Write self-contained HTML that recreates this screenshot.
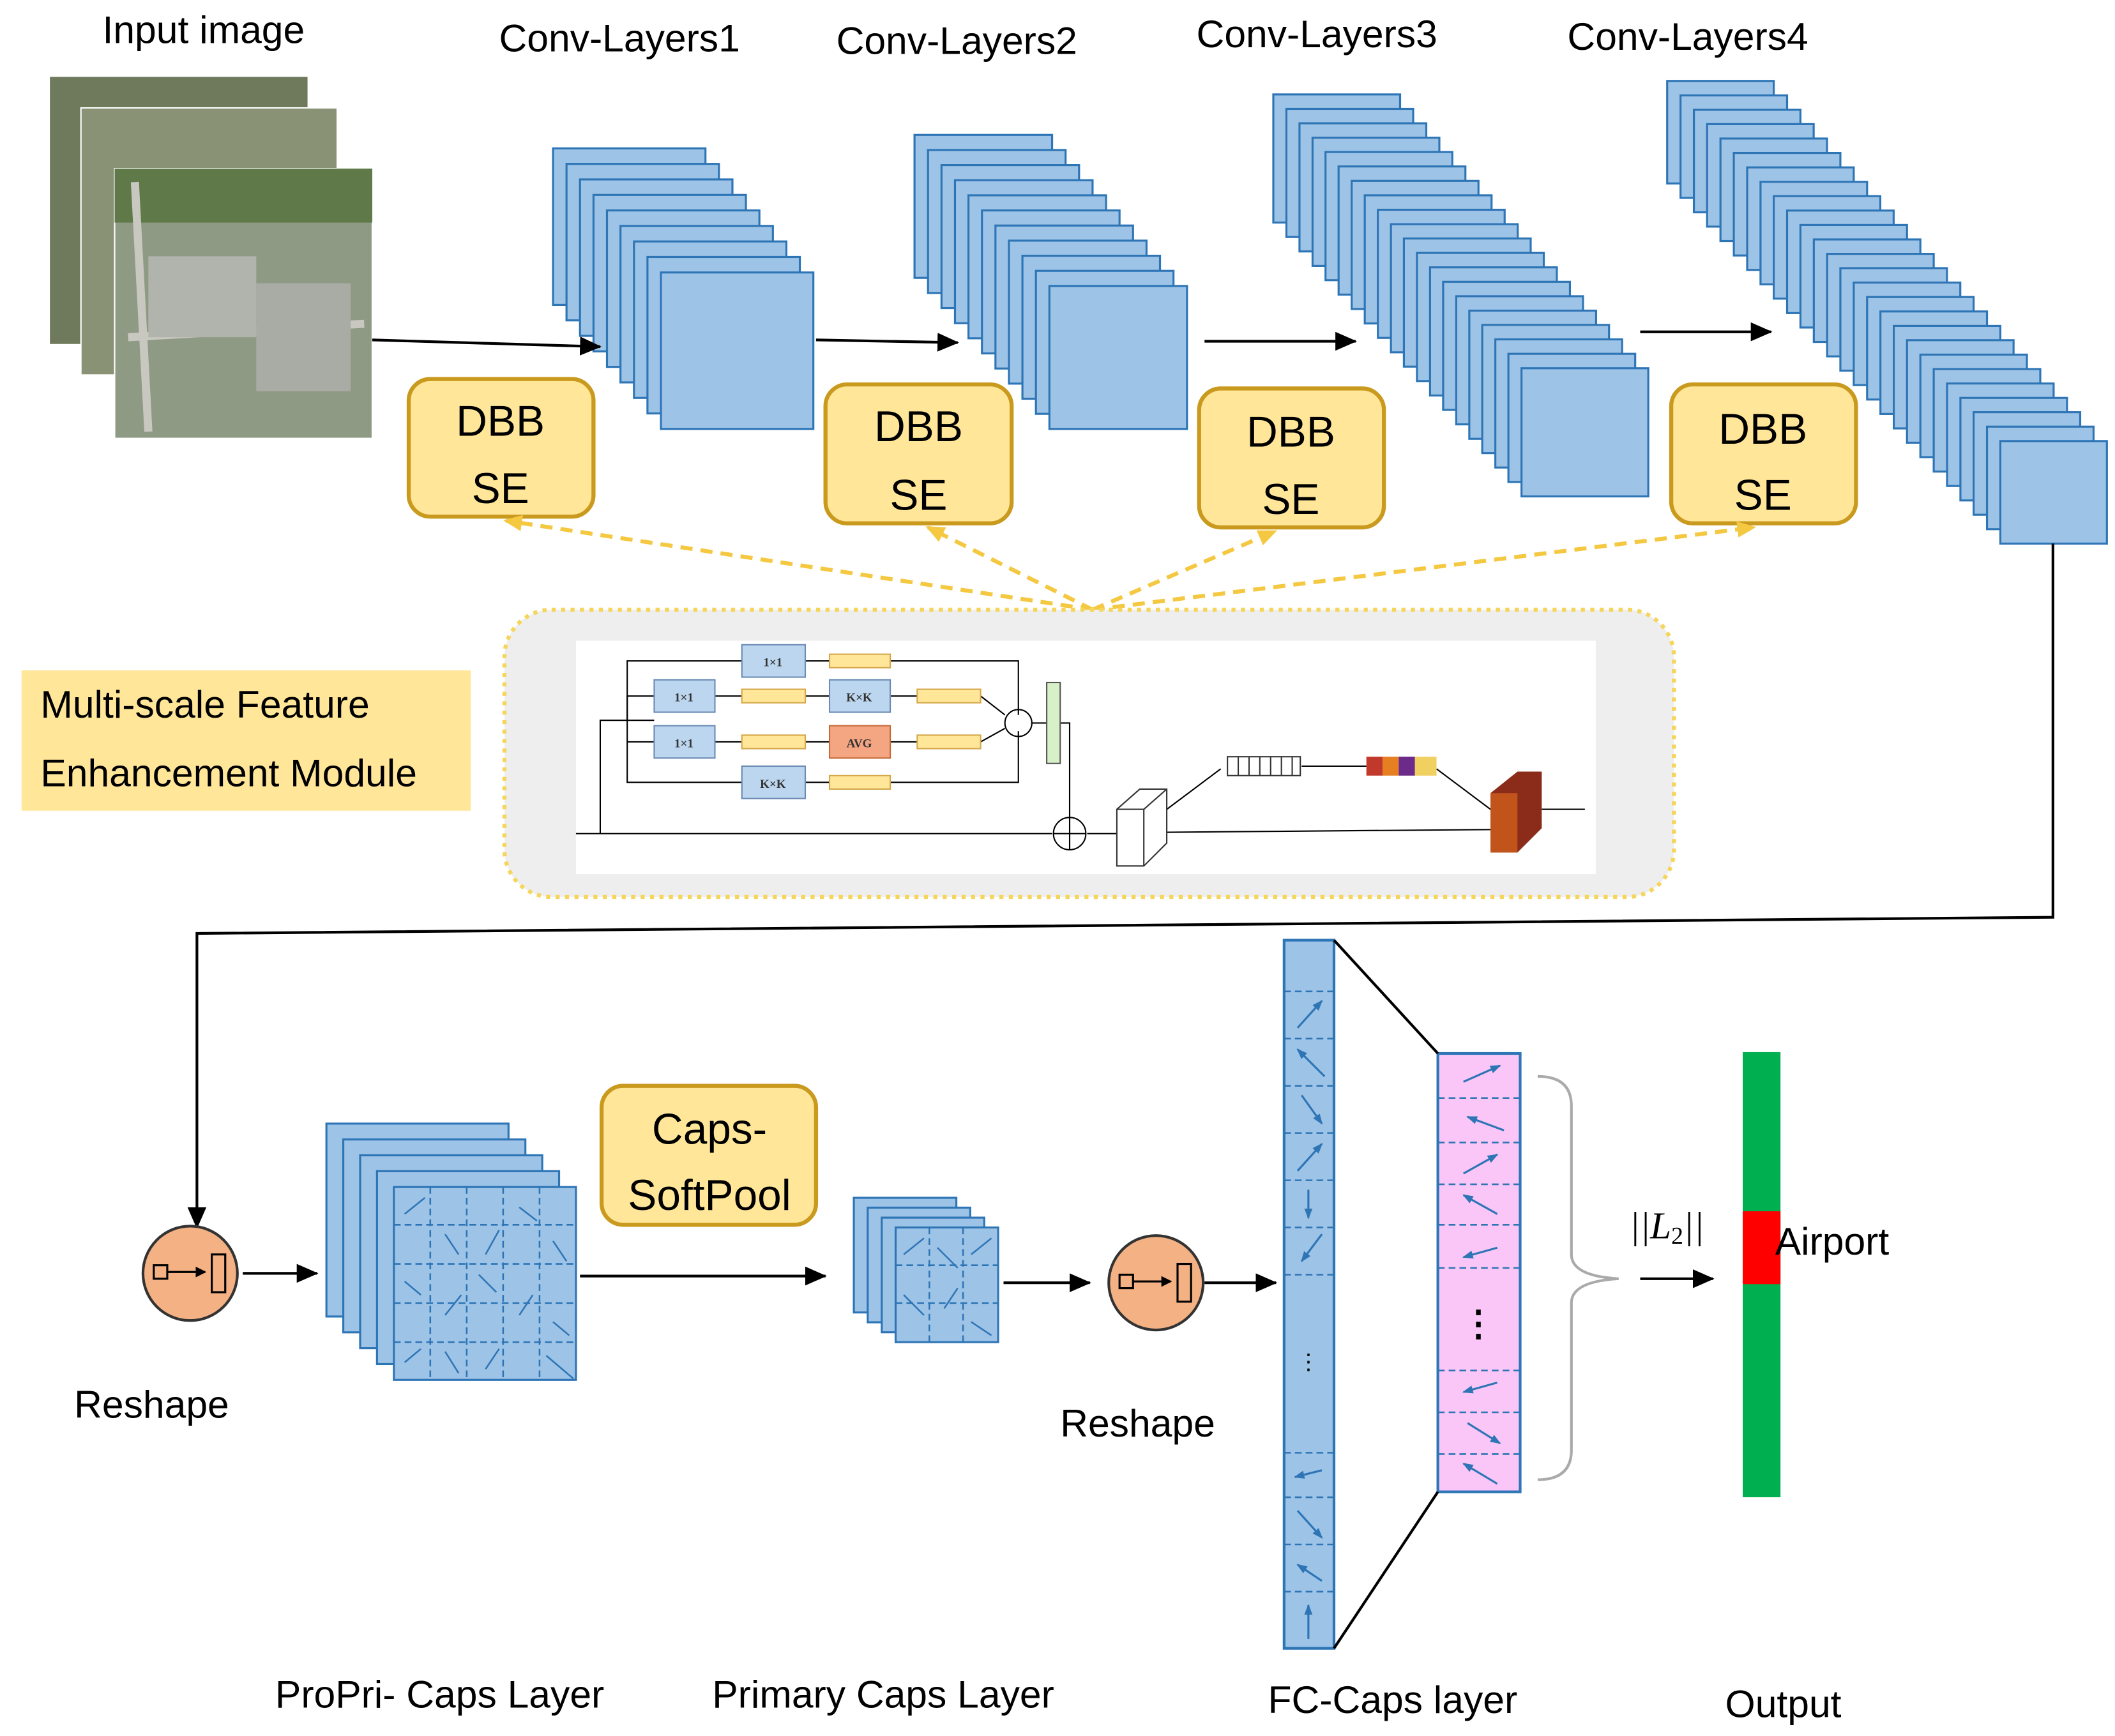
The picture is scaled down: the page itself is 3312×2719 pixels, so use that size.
<!DOCTYPE html>
<html><head><meta charset="utf-8"><style>html,body{margin:0;padding:0;background:#fff}svg{display:block}</style></head>
<body>
<svg xmlns="http://www.w3.org/2000/svg" width="3312" height="2719" viewBox="0 0 1568 1287" preserveAspectRatio="none" font-family="Liberation Sans, sans-serif">
<defs>
<marker id="ah" markerWidth="8" markerHeight="8" refX="7" refY="4" orient="auto" markerUnits="userSpaceOnUse"><path d="M0,0 L8,4 L0,8z" fill="#000"/></marker>
<marker id="ahb" markerWidth="16" markerHeight="14" refX="15" refY="7" orient="auto" markerUnits="userSpaceOnUse"><path d="M0,0 L16,7 L0,14z" fill="#000"/></marker>
<marker id="ahy" markerWidth="14" markerHeight="12" refX="12" refY="6" orient="auto" markerUnits="userSpaceOnUse"><path d="M0,0 L14,6 L0,12z" fill="#F5C842"/></marker>
<marker id="ahs" markerWidth="8" markerHeight="6" refX="7" refY="3" orient="auto" markerUnits="userSpaceOnUse"><path d="M0,0 L8,3 L0,6z" fill="#2E75B6"/></marker>
</defs>
<rect width="1568" height="1287" fill="#fff"/>
<g font-size="28.7" fill="#000">
<text x="76" y="32">Input image</text>
<text x="370" y="38">Conv-Layers1</text>
<text x="620" y="40">Conv-Layers2</text>
<text x="887" y="35">Conv-Layers3</text>
<text x="1162" y="37">Conv-Layers4</text>
</g>
<!-- input images -->
<rect x="37" y="57" width="191" height="198" fill="#6f7a5c"/>
<rect x="60" y="80" width="190" height="198" fill="#8a9276" stroke="#fff" stroke-width="1"/>
<rect x="85" y="125" width="191" height="200" fill="#8f9a84" stroke="#fff" stroke-width="1"/>
<rect x="85" y="125" width="191" height="40" fill="#5f7a48"/>
<path d="M100,135 L110,320 M95,250 L270,240" stroke="#c8c8c0" stroke-width="6" fill="none"/>
<rect x="110" y="190" width="80" height="60" fill="#b0b4ac"/>
<rect x="190" y="210" width="70" height="80" fill="#a8aca4"/>
<!-- conv stacks -->
<g fill="#9DC3E6" stroke="#2E75B6" stroke-width="1.5">
<g>
<rect x="410" y="110" width="113" height="116"/><rect x="420" y="121.5" width="113" height="116"/><rect x="430" y="133" width="113" height="116"/><rect x="440" y="144.5" width="113" height="116"/><rect x="450" y="156" width="113" height="116"/><rect x="460" y="167.5" width="113" height="116"/><rect x="470" y="179" width="113" height="116"/><rect x="480" y="190.5" width="113" height="116"/><rect x="490" y="202" width="113" height="116"/>
</g>
<g>
<rect x="678" y="100" width="102" height="106"/><rect x="688" y="111.2" width="102" height="106"/><rect x="698" y="122.4" width="102" height="106"/><rect x="708" y="133.6" width="102" height="106"/><rect x="718" y="144.8" width="102" height="106"/><rect x="728" y="156" width="102" height="106"/><rect x="738" y="167.2" width="102" height="106"/><rect x="748" y="178.4" width="102" height="106"/><rect x="758" y="189.6" width="102" height="106"/><rect x="768" y="200.8" width="102" height="106"/><rect x="778" y="212" width="102" height="106"/>
</g>
<g>
<rect x="944" y="70" width="94" height="95"/><rect x="953.7" y="80.7" width="94" height="95"/><rect x="963.4" y="91.4" width="94" height="95"/><rect x="973.1" y="102.1" width="94" height="95"/><rect x="982.7" y="112.7" width="94" height="95"/><rect x="992.4" y="123.4" width="94" height="95"/><rect x="1002.1" y="134.1" width="94" height="95"/><rect x="1011.8" y="144.8" width="94" height="95"/><rect x="1021.5" y="155.5" width="94" height="95"/><rect x="1031.2" y="166.2" width="94" height="95"/><rect x="1040.8" y="176.8" width="94" height="95"/><rect x="1050.5" y="187.5" width="94" height="95"/><rect x="1060.2" y="198.2" width="94" height="95"/><rect x="1069.9" y="208.9" width="94" height="95"/><rect x="1079.6" y="219.6" width="94" height="95"/><rect x="1089.3" y="230.3" width="94" height="95"/><rect x="1098.9" y="240.9" width="94" height="95"/><rect x="1108.6" y="251.6" width="94" height="95"/><rect x="1118.3" y="262.3" width="94" height="95"/><rect x="1128" y="273" width="94" height="95"/>
</g>
<g>
<rect x="1236" y="60" width="79" height="76"/><rect x="1245.9" y="70.7" width="79" height="76"/><rect x="1255.8" y="81.4" width="79" height="76"/><rect x="1265.6" y="92" width="79" height="76"/><rect x="1275.5" y="102.7" width="79" height="76"/><rect x="1285.4" y="113.4" width="79" height="76"/><rect x="1295.3" y="124.1" width="79" height="76"/><rect x="1305.2" y="134.8" width="79" height="76"/><rect x="1315" y="145.4" width="79" height="76"/><rect x="1324.9" y="156.1" width="79" height="76"/><rect x="1334.8" y="166.8" width="79" height="76"/><rect x="1344.7" y="177.5" width="79" height="76"/><rect x="1354.6" y="188.2" width="79" height="76"/><rect x="1364.4" y="198.8" width="79" height="76"/><rect x="1374.3" y="209.5" width="79" height="76"/><rect x="1384.2" y="220.2" width="79" height="76"/><rect x="1394.1" y="230.9" width="79" height="76"/><rect x="1404" y="241.6" width="79" height="76"/><rect x="1413.8" y="252.2" width="79" height="76"/><rect x="1423.7" y="262.9" width="79" height="76"/><rect x="1433.6" y="273.6" width="79" height="76"/><rect x="1443.5" y="284.3" width="79" height="76"/><rect x="1453.4" y="295" width="79" height="76"/><rect x="1463.2" y="305.6" width="79" height="76"/><rect x="1473.1" y="316.3" width="79" height="76"/><rect x="1483" y="327" width="79" height="76"/>
</g>
<g>
<rect x="242" y="833" width="135" height="143"/><rect x="254.5" y="844.75" width="135" height="143"/><rect x="267" y="856.5" width="135" height="143"/><rect x="279.5" y="868.25" width="135" height="143"/><rect x="292" y="880" width="135" height="143"/>
</g>
<g>
<rect x="633" y="888" width="76" height="85"/><rect x="643.3" y="895.3" width="76" height="85"/><rect x="653.7" y="902.7" width="76" height="85"/><rect x="664" y="910" width="76" height="85"/>
</g>
</g>
<!-- grid on propri -->
<g stroke="#2E75B6" stroke-dasharray="5,3" stroke-width="1.2">
<line x1="292" y1="908" x2="427" y2="908"/><line x1="292" y1="937" x2="427" y2="937"/><line x1="292" y1="966" x2="427" y2="966"/><line x1="292" y1="995" x2="427" y2="995"/>
<line x1="319" y1="880" x2="319" y2="1023"/><line x1="346" y1="880" x2="346" y2="1023"/><line x1="373" y1="880" x2="373" y2="1023"/><line x1="400" y1="880" x2="400" y2="1023"/>
<line x1="664" y1="938" x2="740" y2="938"/><line x1="664" y1="966" x2="740" y2="966"/><line x1="689" y1="910" x2="689" y2="995"/><line x1="714" y1="910" x2="714" y2="995"/>
</g>
<g stroke="#2E75B6" stroke-width="1.2">
<line x1="300" y1="900" x2="315" y2="888"/><line x1="330" y1="915" x2="340" y2="930"/><line x1="360" y1="930" x2="370" y2="912"/><line x1="385" y1="895" x2="398" y2="905"/><line x1="410" y1="920" x2="420" y2="935"/><line x1="300" y1="950" x2="312" y2="960"/><line x1="330" y1="975" x2="342" y2="960"/><line x1="355" y1="945" x2="368" y2="958"/><line x1="385" y1="975" x2="395" y2="960"/><line x1="410" y1="980" x2="422" y2="990"/><line x1="300" y1="1010" x2="312" y2="1000"/><line x1="330" y1="1002" x2="340" y2="1018"/><line x1="360" y1="1015" x2="370" y2="1000"/><line x1="405" y1="1005" x2="425" y2="1022"/>
<line x1="670" y1="930" x2="685" y2="918"/><line x1="695" y1="925" x2="710" y2="940"/><line x1="720" y1="930" x2="735" y2="918"/><line x1="670" y1="960" x2="685" y2="975"/><line x1="700" y1="970" x2="710" y2="955"/><line x1="720" y1="980" x2="735" y2="990"/>
</g>
<!-- arrows top -->
<g stroke="#000" stroke-width="2" fill="none">
<line x1="276" y1="252" x2="445" y2="257" marker-end="url(#ahb)"/>
<line x1="605" y1="252" x2="710" y2="254" marker-end="url(#ahb)"/>
<line x1="893" y1="253" x2="1005" y2="253" marker-end="url(#ahb)"/>
<line x1="1216" y1="246" x2="1313" y2="246" marker-end="url(#ahb)"/>
</g>
<!-- DBB SE -->
<g fill="#FFE699" stroke="#C99A1E" stroke-width="3">
<rect x="303" y="281" width="137" height="102" rx="16"/>
<rect x="612" y="285" width="138" height="103" rx="16"/>
<rect x="889" y="288" width="137" height="103" rx="16"/>
<rect x="1239" y="285" width="137" height="103" rx="16"/>
</g>
<g font-size="32" text-anchor="middle" fill="#000">
<text x="371" y="323">DBB</text><text x="371" y="373">SE</text>
<text x="681" y="327">DBB</text><text x="681" y="378">SE</text>
<text x="957" y="331">DBB</text><text x="957" y="381">SE</text>
<text x="1307" y="329">DBB</text><text x="1307" y="378">SE</text>
</g>
<g stroke="#F5C842" stroke-width="3" stroke-dasharray="9,6" fill="none">
<line x1="810" y1="452" x2="375" y2="386" marker-end="url(#ahy)"/>
<line x1="810" y1="452" x2="688" y2="391" marker-end="url(#ahy)"/>
<line x1="810" y1="452" x2="945" y2="394" marker-end="url(#ahy)"/>
<line x1="810" y1="452" x2="1300" y2="391" marker-end="url(#ahy)"/>
</g>
<!-- module -->
<rect x="374" y="452" width="867" height="213" rx="35" fill="#eeeeee" stroke="#F5D55A" stroke-width="3" stroke-dasharray="3,4"/>
<rect x="427" y="475" width="756" height="173" fill="#fff"/>
<g stroke="#000" stroke-width="1" fill="none">
<line x1="427" y1="618" x2="780" y2="618"/>
<polyline points="445,618 445,534 485,534"/><polyline points="465,534 465,490 550,490"/><polyline points="465,534 465,516 485,516"/><polyline points="465,550 485,550"/><polyline points="465,534 465,580 550,580"/>
<polyline points="597,490 755,490 755,530"/><polyline points="530,516 550,516"/><polyline points="597,516 615,516"/><polyline points="660,516 680,516"/><polyline points="727,516 745,530"/>
<polyline points="530,550 550,550"/><polyline points="597,550 615,550"/><polyline points="660,550 680,550"/><polyline points="727,550 745,540"/>
<polyline points="597,580 755,580 755,542"/>
<line x1="765" y1="536" x2="776" y2="536"/>
<polyline points="786,536 793,536 793,608"/>
<line x1="806" y1="618" x2="828" y2="618"/>
<line x1="865" y1="600" x2="905" y2="570"/><line x1="965" y1="568" x2="1013" y2="568"/><line x1="1065" y1="570" x2="1105" y2="600"/>
<line x1="865" y1="617" x2="1105" y2="615"/><line x1="1143" y1="600" x2="1175" y2="600"/>
<circle cx="755" cy="536" r="10"/><circle cx="793" cy="618" r="12"/>
<line x1="781" y1="618" x2="805" y2="618"/><line x1="793" y1="606" x2="793" y2="630"/>
</g>
<g stroke="#6b8bb5" fill="#bcd6ef">
<rect x="550" y="478" width="47" height="24"/><rect x="485" y="504" width="45" height="24"/><rect x="615" y="504" width="45" height="24"/>
<rect x="485" y="538" width="45" height="24"/><rect x="550" y="568" width="47" height="24"/>
</g>
<rect x="615" y="538" width="45" height="24" fill="#F4A582" stroke="#c76a3a"/>
<g fill="#FFE699" stroke="#d4a84a"><rect x="615" y="485" width="45" height="10"/><rect x="550" y="511" width="47" height="10"/><rect x="680" y="511" width="47" height="10"/><rect x="550" y="545" width="47" height="10"/><rect x="680" y="545" width="47" height="10"/><rect x="615" y="575" width="45" height="10"/></g>
<rect x="776" y="506" width="10" height="60" fill="#d8f0c8" stroke="#555"/>
<g font-size="9" font-family="Liberation Serif, serif" text-anchor="middle" font-weight="bold" fill="#333">
<text x="573" y="494">1×1</text><text x="507" y="520">1×1</text><text x="637" y="520">K×K</text><text x="507" y="554">1×1</text><text x="637" y="554">AVG</text><text x="573" y="584">K×K</text></g>
<path d="M828,600 L845,585 L865,585 L865,625 L848,642 L828,642 Z M828,600 L848,600 L848,642 M848,600 L865,585" fill="#fff" stroke="#333"/>
<rect x="910" y="561" width="54" height="14" fill="#fff" stroke="#333"/>
<g stroke="#333"><line x1="918" y1="561" x2="918" y2="575"/><line x1="926" y1="561" x2="926" y2="575"/><line x1="934" y1="561" x2="934" y2="575"/><line x1="942" y1="561" x2="942" y2="575"/><line x1="950" y1="561" x2="950" y2="575"/><line x1="958" y1="561" x2="958" y2="575"/></g>
<rect x="1013" y="561" width="12" height="14" fill="#c0392b"/><rect x="1025" y="561" width="12" height="14" fill="#e67e22"/><rect x="1037" y="561" width="12" height="14" fill="#6c2a8a"/><rect x="1049" y="561" width="16" height="14" fill="#f0d060"/>
<path d="M1105,588 L1125,572 L1143,572 L1143,614 L1125,632 L1105,632 Z" fill="#8b2c1a"/>
<rect x="1105" y="588" width="20" height="44" fill="#c0541a"/>
<rect x="16" y="497" width="333" height="104" fill="#FFE699"/>
<text x="30" y="532" font-size="28.7">Multi-scale Feature</text>
<text x="30" y="583" font-size="28.7">Enhancement Module</text>
<!-- connector down -->
<polyline points="1522,403 1522,680 146,692 146,910" fill="none" stroke="#000" stroke-width="2" marker-end="url(#ahb)"/>
<!-- reshape circles -->
<g>
<circle cx="141" cy="944" r="35" fill="#F4B183" stroke="#333" stroke-width="2"/>
<rect x="114" y="938" width="10" height="10" fill="none" stroke="#000" stroke-width="1.5"/>
<line x1="124" y1="943" x2="152" y2="943" stroke="#000" stroke-width="1.5" marker-end="url(#ah)"/>
<rect x="157" y="930" width="10" height="28" fill="none" stroke="#000" stroke-width="1.5"/>
<circle cx="857" cy="951" r="35" fill="#F4B183" stroke="#333" stroke-width="2"/>
<rect x="830" y="945" width="10" height="10" fill="none" stroke="#000" stroke-width="1.5"/>
<line x1="840" y1="950" x2="868" y2="950" stroke="#000" stroke-width="1.5" marker-end="url(#ah)"/>
<rect x="873" y="937" width="10" height="28" fill="none" stroke="#000" stroke-width="1.5"/>
</g>
<g stroke="#000" stroke-width="2">
<line x1="180" y1="944" x2="235" y2="944" marker-end="url(#ahb)"/>
<line x1="430" y1="946" x2="612" y2="946" marker-end="url(#ahb)"/>
<line x1="744" y1="951" x2="808" y2="951" marker-end="url(#ahb)"/>
<line x1="893" y1="951" x2="946" y2="951" marker-end="url(#ahb)"/>
<line x1="1216" y1="948" x2="1270" y2="948" marker-end="url(#ahb)"/>
</g>
<rect x="446" y="805" width="159" height="103" rx="16" fill="#FFE699" stroke="#C99A1E" stroke-width="3"/>
<text x="526" y="848" font-size="32" text-anchor="middle">Caps-</text>
<text x="526" y="897" font-size="32" text-anchor="middle">SoftPool</text>
<!-- FC caps -->
<rect x="952" y="697" width="37" height="525" fill="#9DC3E6" stroke="#2E75B6" stroke-width="2"/>
<g stroke="#2E75B6" stroke-dasharray="5,3" stroke-width="1.2">
<line x1="952" y1="735" x2="989" y2="735"/><line x1="952" y1="770" x2="989" y2="770"/><line x1="952" y1="805" x2="989" y2="805"/><line x1="952" y1="840" x2="989" y2="840"/><line x1="952" y1="875" x2="989" y2="875"/><line x1="952" y1="910" x2="989" y2="910"/><line x1="952" y1="945" x2="989" y2="945"/><line x1="952" y1="1077" x2="989" y2="1077"/><line x1="952" y1="1110" x2="989" y2="1110"/><line x1="952" y1="1145" x2="989" y2="1145"/><line x1="952" y1="1180" x2="989" y2="1180"/>
</g>
<g stroke="#2E75B6" stroke-width="1.5" marker-end="url(#ahs)">
<line x1="962" y1="762" x2="980" y2="742"/><line x1="982" y1="798" x2="962" y2="778"/><line x1="965" y1="812" x2="980" y2="833"/><line x1="962" y1="868" x2="980" y2="848"/><line x1="970" y1="882" x2="970" y2="903"/><line x1="980" y1="915" x2="965" y2="935"/><line x1="980" y1="1090" x2="960" y2="1095"/><line x1="962" y1="1120" x2="980" y2="1140"/><line x1="980" y1="1172" x2="962" y2="1160"/><line x1="970" y1="1215" x2="970" y2="1190"/>
</g>
<text x="970" y="1015" font-size="16" text-anchor="middle">⋮</text>
<rect x="1066" y="781" width="61" height="325" fill="#F9C6F7" stroke="#2E75B6" stroke-width="2"/>
<g stroke="#2E75B6" stroke-dasharray="5,3" stroke-width="1.2">
<line x1="1066" y1="814" x2="1127" y2="814"/><line x1="1066" y1="847" x2="1127" y2="847"/><line x1="1066" y1="878" x2="1127" y2="878"/><line x1="1066" y1="908" x2="1127" y2="908"/><line x1="1066" y1="940" x2="1127" y2="940"/><line x1="1066" y1="1016" x2="1127" y2="1016"/><line x1="1066" y1="1047" x2="1127" y2="1047"/><line x1="1066" y1="1078" x2="1127" y2="1078"/>
</g>
<g stroke="#2E75B6" stroke-width="1.5" marker-end="url(#ahs)">
<line x1="1085" y1="802" x2="1112" y2="790"/><line x1="1115" y1="838" x2="1088" y2="828"/><line x1="1085" y1="870" x2="1110" y2="856"/><line x1="1110" y1="900" x2="1085" y2="886"/><line x1="1110" y1="925" x2="1085" y2="932"/><line x1="1110" y1="1025" x2="1085" y2="1032"/><line x1="1088" y1="1055" x2="1112" y2="1070"/><line x1="1110" y1="1100" x2="1085" y2="1085"/>
</g>
<text x="1096" y="990" font-size="26" text-anchor="middle" font-weight="bold">⋮</text>
<line x1="989" y1="697" x2="1066" y2="781" stroke="#000" stroke-width="2"/>
<line x1="989" y1="1222" x2="1066" y2="1106" stroke="#000" stroke-width="2"/>
<path d="M1140,798 Q1165,798 1165,820 L1165,930 Q1165,946 1200,948 Q1165,950 1165,966 L1165,1075 Q1165,1097 1140,1097" fill="none" stroke="#aaa" stroke-width="2"/>
<text x="1208" y="918" font-size="28" font-family="Liberation Serif, serif" font-style="italic">||L<tspan font-size="18" font-style="normal" dy="4">2</tspan><tspan dy="-4">||</tspan></text>
<rect x="1292" y="780" width="28" height="330" fill="#00B050"/>
<rect x="1292" y="898" width="28" height="54" fill="#FF0000"/>
<text x="1316" y="930" font-size="28.7">Airport</text>
<g font-size="28.7">
<text x="55" y="1051">Reshape</text>
<text x="786" y="1065">Reshape</text>
<text x="204" y="1266">ProPri- Caps Layer</text>
<text x="528" y="1266">Primary Caps Layer</text>
<text x="940" y="1270">FC-Caps layer</text>
<text x="1279" y="1273">Output</text>
</g>
</svg>
</body></html>
